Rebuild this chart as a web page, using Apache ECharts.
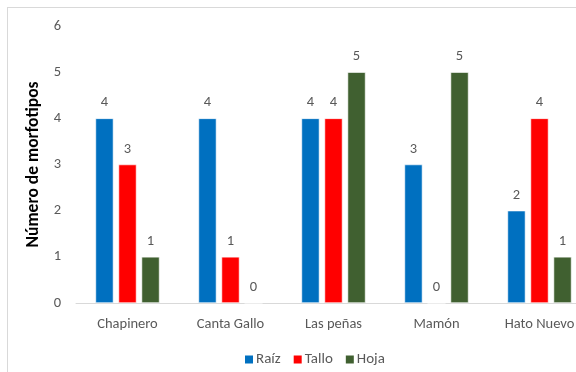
<!DOCTYPE html>
<html>
<head>
<meta charset="utf-8">
<script src="https://cdn.jsdelivr.net/npm/echarts@6/dist/echarts.min.js"></script>
<style>
  html, body { margin: 0; padding: 0; background: #fff; }
  #frame { position: absolute; left: 7px; top: 7px; width: 580px; height: 372px; border: 1px solid #d9d9d9; box-sizing: border-box; }
  #chart { position: absolute; left: 0; top: 0; width: 576px; height: 372px; }
</style>
</head>
<body>
<div id="frame"></div>
<div id="chart"></div>
<script>
// Morphotype counts per site and plant organ
const sites = ['Chapinero', 'Canta Gallo', 'Las peñas', 'Mamón', 'Hato Nuevo'];
const raiz  = [4, 4, 4, 3, 2];
const tallo = [3, 1, 4, 0, 4];
const hoja  = [1, 0, 5, 5, 1];
const yTicks = [0, 1, 2, 3, 4, 5, 6];

const font = 'Calibri, Carlito, "Liberation Sans", "Open Sans", sans-serif';
const labelStyle = { show: true, position: 'top', distance: 8, color: '#595959', fontSize: 14.5, fontFamily: font };

function bar(name, data, color) {
  return {
    name, type: 'bar', data,
    barWidth: 18, barGap: '28%',
    itemStyle: { color, borderColor: '#ffffff', borderWidth: 0.6 },
    label: labelStyle
  };
}

const chart = echarts.init(document.getElementById('chart'));
chart.setOption({
  animation: false,
  textStyle: { fontFamily: font },
  // plot area runs past the right edge of the canvas
  grid: { left: 76, width: 515, top: 26, height: 277, outerBoundsMode: 'none', containLabel: false },
  legend: {
    bottom: 5, left: 243, padding: 0,
    itemWidth: 10, itemHeight: 10, itemGap: 11,
    icon: 'rect',
    textStyle: { color: '#595959', fontSize: 15, fontFamily: font, padding: [0, 0, 0, -3] },
    data: ['Raíz', 'Tallo', 'Hoja']
  },
  xAxis: {
    type: 'category', data: sites,
    axisLine: { lineStyle: { color: '#d9d9d9' } },
    axisTick: { show: false },
    axisLabel: { color: '#595959', fontSize: 14.5, fontFamily: font, margin: 14 }
  },
  yAxis: {
    type: 'value', min: yTicks[0], max: yTicks[yTicks.length - 1], interval: 1,
    name: 'Número de morfotipos', nameLocation: 'middle', nameGap: 18,
    nameTextStyle: { color: '#000', fontSize: 17.5, fontWeight: 'bold', fontFamily: font },
    axisLine: { show: false }, axisTick: { show: false },
    splitLine: { show: false },
    axisLabel: { color: '#595959', fontSize: 14.5, fontFamily: font, margin: 15 }
  },
  series: [
    bar('Raíz', raiz, '#0070c0'),
    bar('Tallo', tallo, '#ff0000'),
    bar('Hoja', hoja, '#406030')
  ]
});
</script>
</body>
</html>
